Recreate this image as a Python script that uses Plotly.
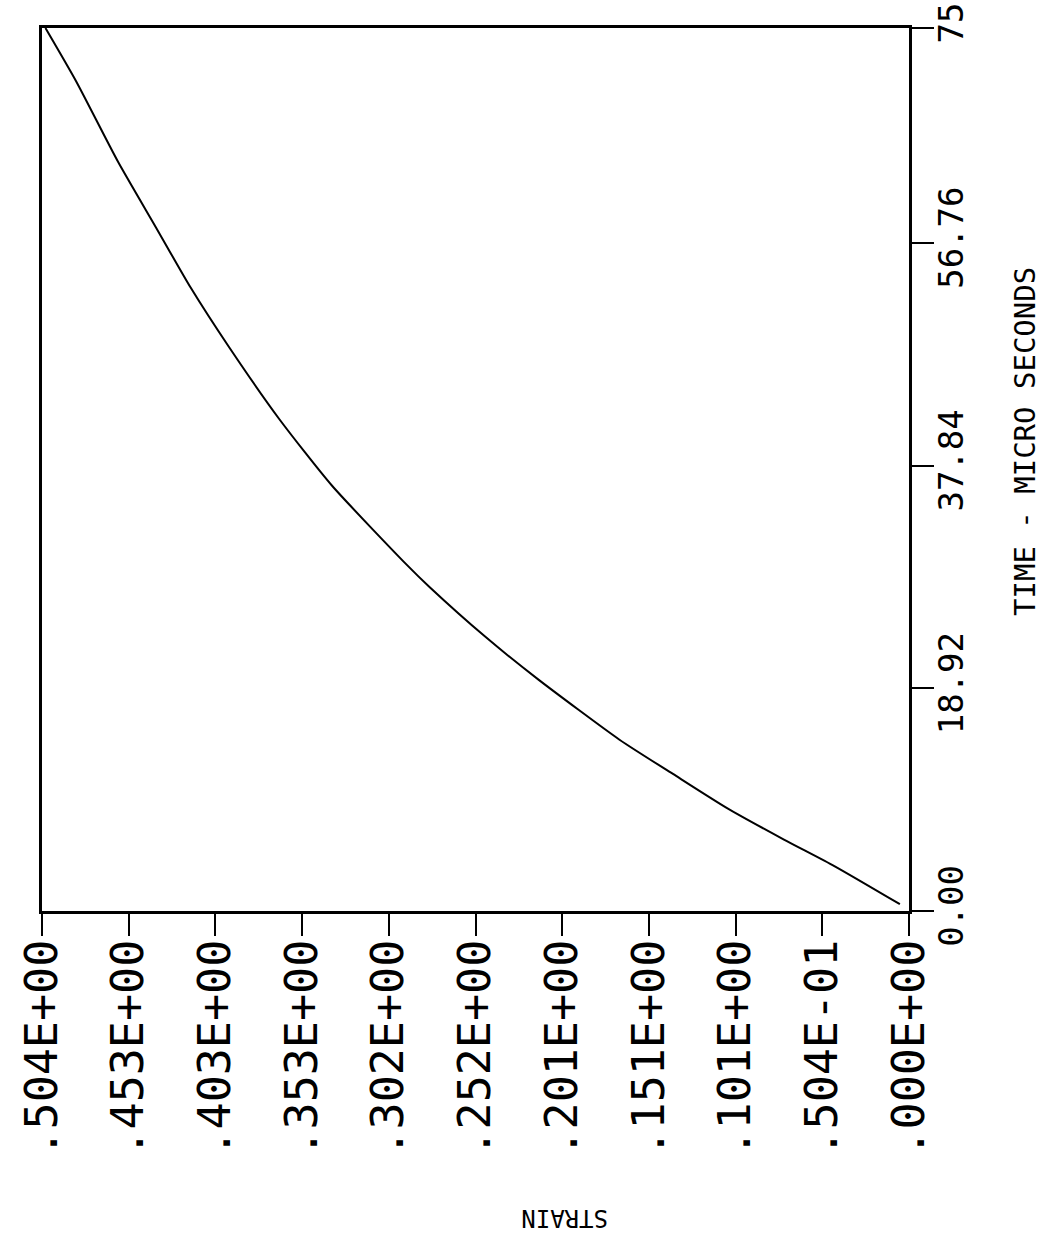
import plotly.graph_objects as go

# ---- data (time in microseconds, strain) ----
time_us = [0.58, 3.82, 6.07, 8.72, 11.64, 14.55, 19.65, 23.33, 27.5, 29.44,
           36.14, 41.77, 47.9, 52.95, 58.0, 63.64, 70.46, 75.0]
strain = [0.0053, 0.0434, 0.0727, 0.1055, 0.1372, 0.1683, 0.2154, 0.2466, 0.2786, 0.2922,
          0.3355, 0.366, 0.3953, 0.4176, 0.4375, 0.4598, 0.4841, 0.502]

strain_ticks = [0.0, 0.0504, 0.1008, 0.1512, 0.2016, 0.252, 0.3024, 0.3528, 0.4032, 0.4536, 0.504]
strain_labels = [".000E+00", ".504E-01", ".101E+00", ".151E+00", ".201E+00", ".252E+00",
                 ".302E+00", ".353E+00", ".403E+00", ".453E+00", ".504E+00"]
time_ticks = [0.0, 18.92, 37.84, 56.76, 75.0]
time_labels = ["0.00", "18.92", "37.84", "56.76", "75"]

W, H = 1045, 1242
L, R, T, B = 42, 136, 28, 331

fig = go.Figure()
fig.add_trace(go.Scatter(x=strain, y=time_us, mode="lines",
                         line=dict(color="black", width=2, shape="spline", smoothing=0.6),
                         showlegend=False, hoverinfo="skip"))

fig.update_layout(
    width=W, height=H,
    margin=dict(l=L, r=R, t=T, b=B, pad=0),
    paper_bgcolor="white", plot_bgcolor="white",
    showlegend=False,
    xaxis=dict(range=[0.504, 0.0], tickvals=strain_ticks, ticktext=strain_labels,
               tickangle=-90, ticks="outside", ticklen=22, tickwidth=2, tickcolor="black",
               showgrid=False, zeroline=False, showline=True, linecolor="black",
               linewidth=2.5, mirror=True, automargin=False,
               ticklabelstandoff=-14, ticklabeloverflow="allow",
               tickfont=dict(family="DejaVu Sans Mono", size=45, color="black")),
    yaxis=dict(range=[0.0, 75.0], side="right", tickvals=time_ticks, ticktext=time_labels,
               tickangle=-90, ticks="outside", ticklen=22, tickwidth=2, tickcolor="black",
               showgrid=False, zeroline=False, showline=True, linecolor="black",
               linewidth=2.5, mirror=True, automargin=False,
               ticklabelstandoff=-12, ticklabeloverflow="allow",
               tickfont=dict(family="DejaVu Sans Mono", size=34, color="black")),
)

plot_w = W - L - R
plot_h = H - T - B
fig.add_annotation(text="TIME - MICRO SECONDS", xref="paper", yref="paper",
                   x=(1025 - L) / plot_w, y=(H - B - 442) / plot_h,
                   textangle=-90, showarrow=False, xanchor="center", yanchor="middle",
                   font=dict(family="DejaVu Sans Mono", size=29, color="black"))
fig.add_annotation(text="STRAIN", xref="paper", yref="paper",
                   x=(565 - L) / plot_w, y=(H - B - 1218) / plot_h,
                   textangle=180, showarrow=False, xanchor="center", yanchor="middle",
                   font=dict(family="DejaVu Sans Mono", size=24, color="black"))

fig.write_html("out.html")
